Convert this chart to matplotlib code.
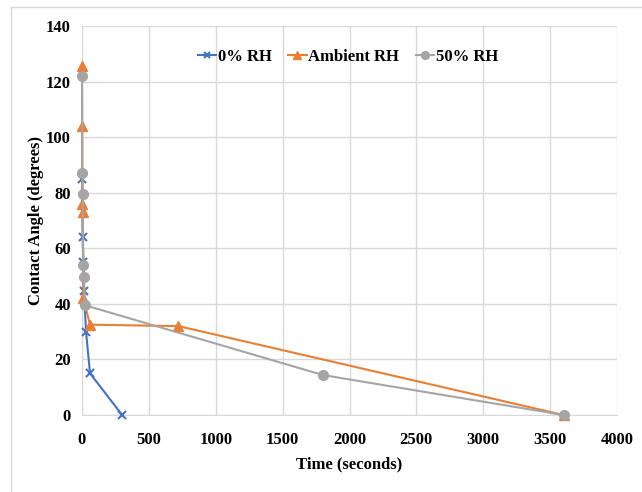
import matplotlib
matplotlib.use("Agg")
import matplotlib.pyplot as plt
from matplotlib.lines import Line2D

plt.rcParams['font.family'] = ['Liberation Serif', 'DejaVu Serif']
plt.rcParams['font.weight'] = 'bold'

t_dry = [0, 5, 10, 15, 30, 60, 300]
ca_dry = [85, 64, 55, 44.5, 30, 15, 0]

t_amb = [0, 1, 3, 5, 10, 60, 720, 3600]
ca_amb = [125.5, 104, 76, 73, 42, 32.5, 32, 0]

t_hum = [0, 2, 5, 10, 15, 22, 1800, 3600]
ca_hum = [122, 87, 79.5, 54, 49.5, 39.5, 14.4, 0]

xticks = [0, 500, 1000, 1500, 2000, 2500, 3000, 3500, 4000]
yticks = [0, 20, 40, 60, 80, 100, 120, 140]

fig = plt.figure(figsize=(6.42, 4.92), dpi=100)
ax = fig.add_axes([82/642, 1-415/492, (617-82)/642, (415-26)/492])

ax.plot(t_dry, ca_dry, color='#4472C4', marker='x', markersize=6, mew=1.5, lw=1.5,
        label='0% RH', zorder=3, clip_on=False)
ax.plot(t_amb, ca_amb, color='#ED7D31', marker='^', markersize=7, lw=1.5,
        label='Ambient RH', zorder=4, clip_on=False)
ax.plot(t_hum, ca_hum, color='#A5A5A5', marker='o', markersize=7, lw=1.5,
        label='50% RH', zorder=5, clip_on=False)

ax.set_xlim(0, 4000)
ax.set_ylim(0, 140)
ax.set_xticks(xticks)
ax.set_yticks(yticks)
ax.tick_params(axis='x', length=0, labelsize=12, pad=12)
ax.tick_params(axis='y', length=0, labelsize=12, pad=8)
for lab in ax.get_xticklabels() + ax.get_yticklabels():
    lab.set_fontweight('bold')
ax.grid(True, color='#D9D9D9', lw=1)
ax.set_axisbelow(True)
for s in ['top', 'right']:
    ax.spines[s].set_visible(False)
ax.spines['left'].set_color('#D9D9D9')
ax.spines['bottom'].set_color('#D9D9D9')

ax.set_xlabel('Time (seconds)', fontsize=12, fontweight='bold', labelpad=6)
ax.set_ylabel('Contact Angle (degrees)', fontsize=12, fontweight='bold', labelpad=1)

leg = ax.legend(loc='upper center', bbox_to_anchor=(0.497, 0.98), ncol=3, frameon=False,
                handlelength=1.1, handletextpad=0.1, columnspacing=1.0,
                markerscale=0.8, prop={'weight': 'bold', 'size': 12})

fig.add_artist(Line2D([11/642, 11/642], [0, 1-7/492], color='#D9D9D9', lw=1, transform=fig.transFigure))
fig.add_artist(Line2D([11/642, 1], [1-7/492, 1-7/492], color='#D9D9D9', lw=1, transform=fig.transFigure))

fig.savefig('out.png', dpi=100)
